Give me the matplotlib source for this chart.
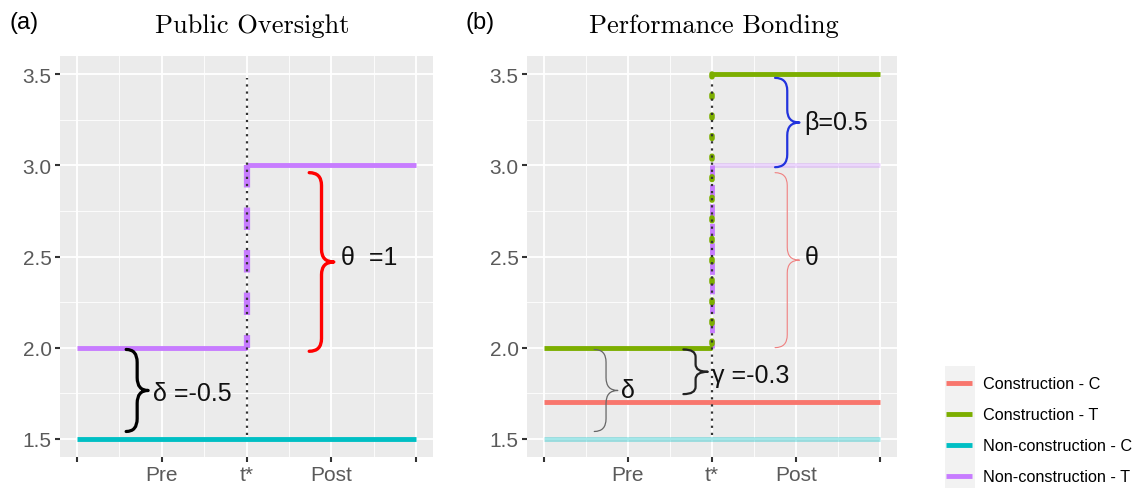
import matplotlib
matplotlib.use("Agg")
import matplotlib.pyplot as plt
from matplotlib.path import Path
from matplotlib.patches import PathPatch, Rectangle
from matplotlib.lines import Line2D

# ---- data ----
x_ticks = [0, 1, 2, 3, 4]
x_labels = ["", "Pre", "t*", "Post", ""]
y_ticks = [1.5, 2.0, 2.5, 3.0, 3.5]
t_star = 2
x_start, x_end = 0, 4

# panel (a): Public Oversight
a_noncon_T = [2.0, 3.0]     # pre, post
a_noncon_C = 1.5

# panel (b): Performance Bonding
b_con_T = [2.0, 3.5]
b_con_C = 1.7
b_noncon_T = [2.0, 3.0]
b_noncon_C = 1.5

series_names = ["Construction - C", "Construction - T",
                "Non-construction - C", "Non-construction - T"]
series_colors = ["#F8766D", "#7CAE00", "#00BFC4", "#C77CFF"]
RED, GREEN, TEAL, PURPLE = series_colors

# braces: (x_left, y_bottom, y_top, width, colour, lw, label, label_x, label_y)
braces_a = [
    (0.58, 1.54, 1.99, 0.26, "black", 2.3, "δ =-0.5", 0.90, 1.75),
    (2.74, 1.98, 2.96, 0.29, "red", 2.4, "θ  =1", 3.11, 2.50),
]
braces_b = [
    (2.75, 2.99, 3.48, 0.29, "#2233DD", 1.6, "β=0.5", 3.10, 3.24),
    (2.75, 2.00, 2.96, 0.29, "#F08080", 0.8, "θ", 3.10, 2.50),
    (0.60, 1.54, 1.99, 0.28, "#666666", 0.9, "δ", 0.92, 1.77),
    (1.66, 1.745, 1.99, 0.29, "#222222", 1.6, "γ =-0.3", 2.00, 1.85),
]

SANS = "Liberation Sans"
LW = 3.5


def brace(ax, x, y0, y1, w, color, lw):
    ym = (y0 + y1) / 2
    xm = x + w / 2
    h = min(0.07, (y1 - y0) / 6)
    verts = [(x, y1), (xm, y1), (xm, y1 - h), (xm, ym + h), (xm, ym), (x + w, ym),
             (xm, ym), (xm, ym - h), (xm, y0 + h), (xm, y0), (x, y0)]
    codes = [Path.MOVETO, Path.CURVE3, Path.CURVE3, Path.LINETO, Path.CURVE3, Path.CURVE3,
             Path.CURVE3, Path.CURVE3, Path.LINETO, Path.CURVE3, Path.CURVE3]
    ax.add_patch(PathPatch(Path(verts, codes), fill=False, edgecolor=color, lw=lw,
                           capstyle="round", joinstyle="round", zorder=6))


def style_axes(ax, title, title_x):
    ax.set_facecolor("#EBEBEB")
    ax.set_xlim(-0.2, 4.2)
    ax.set_ylim(1.4, 3.6)
    ax.set_xticks(x_ticks)
    ax.set_xticklabels(x_labels)
    ax.set_yticks(y_ticks)
    ax.set_yticklabels([f"{v:.1f}" for v in y_ticks])
    ax.set_xticks([0.5, 1.5, 2.5, 3.5], minor=True)
    ax.set_yticks([1.75, 2.25, 2.75, 3.25], minor=True)
    ax.grid(which="major", color="white", lw=1.3)
    ax.grid(which="minor", color="white", lw=0.6)
    ax.set_axisbelow(True)
    for s in ax.spines.values():
        s.set_visible(False)
    ax.tick_params(which="major", length=3.5, width=1.5, color="#333333",
                   labelcolor="#5A5A5A", labelsize=15, pad=2.5)
    ax.tick_params(which="minor", length=0)
    for lab in ax.get_xticklabels() + ax.get_yticklabels():
        lab.set_fontfamily(SANS)
    ax.set_title(title, fontfamily="cmr10", fontsize=19, pad=17, x=title_x)


def add_braces(ax, braces):
    for x, y0, y1, w, c, lw, lab, lx, ly in braces:
        brace(ax, x, y0, y1, w, c, lw)
        ax.text(lx, ly, lab, fontsize=18, fontfamily=SANS, color="#111111",
                va="center", ha="left", zorder=7)


fig = plt.figure(figsize=(11.37, 4.89), dpi=100)
axa = fig.add_axes([0.0528, 0.0634, 0.328, 0.820])
axb = fig.add_axes([0.4635, 0.0634, 0.3254, 0.820])

# ---- panel (a) ----
style_axes(axa, "Public Oversight", 0.515)
axa.plot([x_start, x_end], [a_noncon_C] * 2, color=TEAL, lw=LW, solid_capstyle="butt")
axa.plot([x_start, t_star], [a_noncon_T[0]] * 2, color=PURPLE, lw=LW, solid_capstyle="butt")
axa.plot([t_star, x_end], [a_noncon_T[1]] * 2, color=PURPLE, lw=LW, solid_capstyle="butt")
axa.plot([t_star, t_star], a_noncon_T[::-1], color=PURPLE, lw=LW + 1, dashes=(3.6, 3.2))
axa.plot([t_star, t_star], [1.52, 3.48], color="#333333", lw=1.6, dashes=(1, 2.2), zorder=5)
add_braces(axa, braces_a)

# ---- panel (b) ----
style_axes(axb, "Performance Bonding", 0.505)
axb.plot([x_start, x_end], [b_noncon_C] * 2, color=TEAL, alpha=0.35, lw=LW, solid_capstyle="butt")
axb.plot([t_star, x_end], [b_noncon_T[1]] * 2, color=PURPLE, alpha=0.3, lw=LW, solid_capstyle="butt")
axb.plot([t_star, t_star], b_noncon_T[::-1], color=PURPLE, lw=LW, dashes=(2.5, 1.5))
axb.plot([x_start, x_end], [b_con_C] * 2, color=RED, lw=LW, solid_capstyle="butt")
axb.plot([x_start, t_star], [b_con_T[0]] * 2, color=GREEN, lw=LW, solid_capstyle="butt")
axb.plot([t_star, x_end], [b_con_T[1]] * 2, color=GREEN, lw=LW, solid_capstyle="butt")
axb.plot([t_star, t_star], b_con_T[::-1], color=GREEN, lw=LW + 0.5, dashes=(0.5, 3.2),
         dash_capstyle="round")
axb.plot([t_star, t_star], [1.52, 3.45], color="#333333", lw=1.6, dashes=(1, 2.2), zorder=5)
add_braces(axb, braces_b)

fig.text(0.008, 0.952, "(a)", fontsize=17, fontfamily=SANS, va="center")
fig.text(0.409, 0.952, "(b)", fontsize=17, fontfamily=SANS, va="center")

# ---- legend ----
fig.patches.append(Rectangle((945 / 1137, 0), 30 / 1137, 122 / 489, transform=fig.transFigure,
                             facecolor="#F2F2F2", edgecolor="none"))
handles = [Line2D([], [], color=c, lw=LW, solid_capstyle="butt") for c in series_colors]
fig.legend(handles, series_names, loc="upper left", bbox_to_anchor=(939 / 1137, 1 - 371 / 489),
           frameon=False, prop={"family": SANS, "size": 11.7}, handlelength=1.6,
           handletextpad=0.72, labelspacing=0.98, borderaxespad=0)

fig.savefig("out.png", dpi=100)
